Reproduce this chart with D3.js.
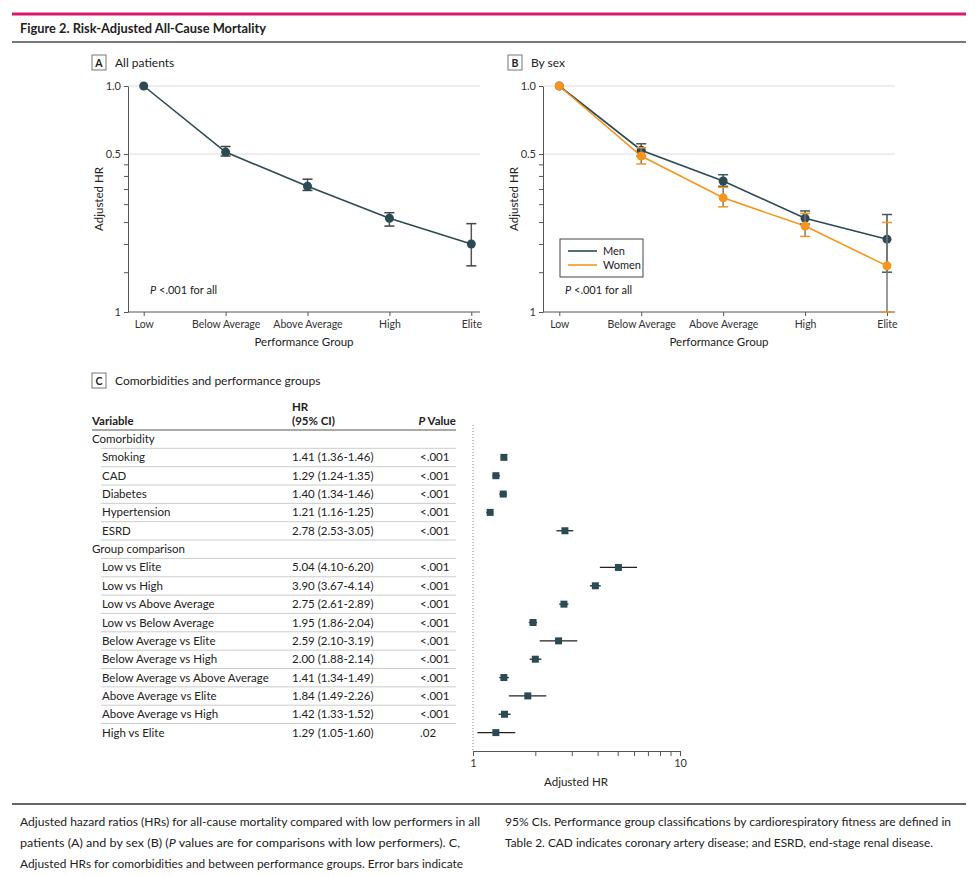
<!DOCTYPE html>
<html>
<head>
<meta charset="utf-8">
<style>
  body { margin: 0; background: #fff; }
  svg { display: block; font-family: "Lato", "Noto Sans", sans-serif; }
  .tick text { font-family: "Lato", "Noto Sans", sans-serif; }
</style>
</head>
<body>
<div id="chart"></div>
<script src="https://cdn.jsdelivr.net/npm/d3@7"></script>
<script>
// ---- data ----
var groups = ["Low", "Below Average", "Above Average", "High", "Elite"];

// panel A: all patients
var allHR = [1.0, 0.51, 0.36, 0.26, 0.20];
var allLo = [null, 0.49, 0.345, 0.24, 0.16];
var allHi = [null, 0.54, 0.387, 0.275, 0.246];

// panel B: by sex
var menHR = [1.0, 0.52, 0.38, 0.26, 0.21];
var menLo = [null, 0.49, 0.36, 0.245, 0.15];
var menHi = [null, 0.555, 0.405, 0.28, 0.27];
var womenHR = [1.0, 0.49, 0.32, 0.24, 0.16];
var womenLo = [null, 0.452, 0.292, 0.216, 0.10];
var womenHi = [null, 0.533, 0.356, 0.273, 0.249];

var yTicks = [1.0, 0.5, 0.45, 0.4, 0.35, 0.3, 0.25, 0.2, 0.15, 0.1];
var yTickLabels = {"1": "1.0", "0.5": "0.5", "0.1": "1"};

// panel C: comorbidities and group comparisons
var comorbVars = ["Smoking", "CAD", "Diabetes", "Hypertension", "ESRD"];
var comorbHR = [1.41, 1.29, 1.40, 1.21, 2.78];
var comorbLo = [1.36, 1.24, 1.34, 1.16, 2.53];
var comorbHi = [1.46, 1.35, 1.46, 1.25, 3.05];
var comorbP = ["<.001", "<.001", "<.001", "<.001", "<.001"];

var compVars = ["Low vs Elite", "Low vs High", "Low vs Above Average", "Low vs Below Average",
  "Below Average vs Elite", "Below Average vs High", "Below Average vs Above Average",
  "Above Average vs Elite", "Above Average vs High", "High vs Elite"];
var compHR = [5.04, 3.90, 2.75, 1.95, 2.59, 2.00, 1.41, 1.84, 1.42, 1.29];
var compLo = [4.10, 3.67, 2.61, 1.86, 2.10, 1.88, 1.34, 1.49, 1.33, 1.05];
var compHi = [6.20, 4.14, 2.89, 2.04, 3.19, 2.14, 1.49, 2.26, 1.52, 1.60];
var compP = ["<.001", "<.001", "<.001", "<.001", "<.001", "<.001", "<.001", "<.001", "<.001", ".02"];

var forestTicks = [1, 2, 3, 4, 5, 6, 7, 8, 9, 10];

var captionLeft = [
  "Adjusted hazard ratios (HRs) for all-cause mortality compared with low performers in all",
  "patients (A) and by sex (B) (|P| values are for comparisons with low performers). C,",
  "Adjusted HRs for comorbidities and between performance groups. Error bars indicate"
];
var captionRight = [
  "95% CIs. Performance group classifications by cardiorespiratory fitness are defined in",
  "Table 2. CAD indicates coronary artery disease; and ESRD, end-stage renal disease."
];

var teal = "#2c4a53", orange = "#f7941d", axisCol = "#555", textCol = "#222";

var svg = d3.select("#chart").append("svg")
  .attr("width", 978).attr("height", 876);

// ---- header ----
svg.append("line").attr("x1", 12).attr("x2", 966).attr("y1", 14).attr("y2", 14)
  .attr("stroke", "#d81b6a").attr("stroke-width", 3);
svg.append("text").attr("x", 20).attr("y", 33)
  .attr("font-size", 13.5).attr("font-weight", 700).attr("fill", textCol)
  .attr("textLength", 246).attr("lengthAdjust", "spacingAndGlyphs")
  .text("Figure 2. Risk-Adjusted All-Cause Mortality");
svg.append("line").attr("x1", 12).attr("x2", 966).attr("y1", 42).attr("y2", 42)
  .attr("stroke", "#777").attr("stroke-width", 2);

function panelLabel(x, y, letter, title) {
  svg.append("rect").attr("x", x).attr("y", y).attr("width", 14).attr("height", 15)
    .attr("fill", "#fff").attr("stroke", "#777").attr("stroke-width", 1);
  svg.append("text").attr("x", x + 7).attr("y", y + 11.5).attr("text-anchor", "middle")
    .attr("font-size", 10.5).attr("font-weight", 700).attr("fill", textCol).text(letter);
  svg.append("text").attr("x", x + 23).attr("y", y + 12)
    .attr("font-size", 12).attr("fill", textCol).text(title);
}

// ---- line panels (A and B) ----
function linePanel(left, xFirst, xLast, right, series) {
  var top = 86, bottom = 312;
  var x = d3.scalePoint().domain(groups).range([xFirst, xLast]);
  var y = d3.scaleLog().domain([0.1, 1]).range([bottom, top]);
  var g = svg.append("g");

  // gridlines at labelled ticks
  g.selectAll(".grid").data([1.0, 0.5]).enter().append("line")
    .attr("x1", left).attr("x2", right)
    .attr("y1", d => y(d)).attr("y2", d => y(d))
    .attr("stroke", "#ddd").attr("stroke-width", 1);

  var ya = g.append("g").attr("transform", "translate(" + left + ",0)")
    .call(d3.axisLeft(y).tickValues(yTicks).tickSize(4).tickSizeOuter(0)
      .tickFormat(d => yTickLabels[String(d)] || ""));
  ya.select(".domain").attr("stroke", axisCol);
  ya.selectAll(".tick line").attr("stroke", axisCol);
  ya.selectAll(".tick text").attr("font-size", 11).attr("fill", "#333");

  var xa = g.append("g").attr("transform", "translate(0," + bottom + ")")
    .call(d3.axisBottom(x).tickSize(4).tickSizeOuter(0));
  xa.select(".domain").remove();
  xa.selectAll(".tick line").attr("stroke", axisCol);
  xa.selectAll(".tick text").attr("font-size", 10.5).attr("fill", "#333").attr("dy", "0.9em");
  g.append("line").attr("x1", left).attr("x2", right).attr("y1", bottom).attr("y2", bottom)
    .attr("stroke", axisCol);

  g.append("text").attr("transform", "translate(" + (left - 25) + "," + ((top + bottom) / 2) + ") rotate(-90)")
    .attr("text-anchor", "middle").attr("font-size", 11.5).attr("fill", textCol).text("Adjusted HR");
  g.append("text").attr("x", (left + right) / 2).attr("y", bottom + 34)
    .attr("text-anchor", "middle").attr("font-size", 11.5).attr("fill", textCol).text("Performance Group");

  var pt = g.append("text").attr("x", left + 22).attr("y", bottom - 18)
    .attr("font-size", 11).attr("fill", textCol);
  pt.append("tspan").attr("font-style", "italic").text("P");
  pt.append("tspan").text(" <.001 for all");

  var line = d3.line().x((d, i) => x(groups[i])).y(d => y(d));
  series.forEach(function (s) {
    g.append("path").datum(s.hr).attr("d", line)
      .attr("fill", "none").attr("stroke", s.color).attr("stroke-width", 1.6);
  });
  series.forEach(function (s) {
    var idx = d3.range(groups.length).filter(i => s.lo[i] != null);
    var eb = g.append("g");
    eb.selectAll(".stem").data(idx).enter().append("line")
      .attr("x1", i => x(groups[i])).attr("x2", i => x(groups[i]))
      .attr("y1", i => y(s.lo[i])).attr("y2", i => y(s.hi[i]))
      .attr("stroke", s.bar).attr("stroke-width", 1.5);
    ["lo", "hi"].forEach(function (k) {
      eb.selectAll(".cap" + k).data(idx).enter().append("line")
        .attr("x1", i => x(groups[i]) - 5).attr("x2", i => x(groups[i]) + 5)
        .attr("y1", i => y(s[k][i])).attr("y2", i => y(s[k][i]))
        .attr("stroke", s.cap).attr("stroke-width", 1.5);
    });
    g.selectAll(".dot").data(s.hr).enter().append("circle")
      .attr("cx", (d, i) => x(groups[i])).attr("cy", d => y(d)).attr("r", 4.5)
      .attr("fill", s.color);
  });
  return g;
}

panelLabel(92, 55, "A", "All patients");
linePanel(128, 143.7, 471.3, 480, [
  {hr: allHR, lo: allLo, hi: allHi, color: teal, bar: "#555", cap: "#444"}
]);

panelLabel(508, 55, "B", "By sex");
var gB = linePanel(543, 559.3, 887, 895, [
  {hr: menHR, lo: menLo, hi: menHi, color: teal, bar: "#4a4f52", cap: "#3f5a62"},
  {hr: womenHR, lo: womenLo, hi: womenHi, color: orange, bar: "#777", cap: orange}
]);
// legend
var lg = gB.append("g");
lg.append("rect").attr("x", 560).attr("y", 239).attr("width", 83).attr("height", 38)
  .attr("fill", "#fff").attr("stroke", "#444").attr("stroke-width", 1);
[["Men", teal], ["Women", orange]].forEach(function (d, i) {
  lg.append("line").attr("x1", 568).attr("x2", 597).attr("y1", 251 + i * 14).attr("y2", 251 + i * 14)
    .attr("stroke", d[1]).attr("stroke-width", 1.6);
  lg.append("text").attr("x", 603).attr("y", 255 + i * 14).attr("font-size", 11)
    .attr("fill", textCol).text(d[0]);
});

// ---- panel C: table + forest plot ----
panelLabel(92, 373, "C", "Comorbidities and performance groups");

var rows = [{label: "Comorbidity", head: true}];
comorbVars.forEach((v, i) => rows.push({label: v, hr: comorbHR[i], lo: comorbLo[i], hi: comorbHi[i], p: comorbP[i]}));
rows.push({label: "Group comparison", head: true});
compVars.forEach((v, i) => rows.push({label: v, hr: compHR[i], lo: compLo[i], hi: compHi[i], p: compP[i]}));

var rowY = d3.scaleLinear().domain([0, rows.length - 1]).range([439, 732.6]);
var fmt = d3.format(".2f");
var tbl = svg.append("g").attr("font-size", 11.5).attr("fill", textCol);

tbl.append("text").attr("x", 292).attr("y", 411).attr("font-weight", 700).text("HR");
tbl.append("text").attr("x", 292).attr("y", 425).attr("font-weight", 700).text("(95% CI)");
tbl.append("text").attr("x", 92).attr("y", 425).attr("font-weight", 700).text("Variable");
var pv = tbl.append("text").attr("x", 456).attr("y", 425).attr("text-anchor", "end").attr("font-weight", 700);
pv.append("tspan").attr("font-style", "italic").text("P");
pv.append("tspan").text(" Value");
tbl.append("line").attr("x1", 92).attr("x2", 456).attr("y1", 430).attr("y2", 430)
  .attr("stroke", "#555").attr("stroke-width", 1.2);

rows.forEach(function (r, i) {
  var yy = rowY(i);
  tbl.append("text").attr("x", r.head ? 92 : 102).attr("y", yy + 4).text(r.label);
  if (!r.head) {
    tbl.append("text").attr("x", 292).attr("y", yy + 4)
      .text(fmt(r.hr) + " (" + fmt(r.lo) + "-" + fmt(r.hi) + ")");
    tbl.append("text").attr("x", 420).attr("y", yy + 4).text(r.p);
  }
  if (i < rows.length - 1) {
    tbl.append("line").attr("x1", 101).attr("x2", 456).attr("y1", yy + 9.3).attr("y2", yy + 9.3)
      .attr("stroke", "#ccc").attr("stroke-width", 1);
  }
});

var fx = d3.scaleLog().domain([1, 10]).range([473, 680]);
var fg = svg.append("g");
fg.append("line").attr("x1", fx(1)).attr("x2", fx(1)).attr("y1", 425).attr("y2", 751)
  .attr("stroke", "#888").attr("stroke-dasharray", "1,2");
var fa = fg.append("g").attr("transform", "translate(0,751)")
  .call(d3.axisBottom(fx).tickValues(forestTicks).tickSize(5).tickSizeOuter(0)
    .tickFormat(d => (d === 1 || d === 10) ? String(d) : ""));
fa.select(".domain").attr("stroke", axisCol);
fa.selectAll(".tick line").attr("stroke", axisCol);
fa.selectAll(".tick text").attr("font-size", 11).attr("fill", "#333");
fg.append("text").attr("x", 576).attr("y", 786).attr("text-anchor", "middle")
  .attr("font-size", 11.5).attr("fill", textCol).text("Adjusted HR");

var pts = rows.map((r, i) => Object.assign({i: i}, r)).filter(r => !r.head);
fg.selectAll(".ci").data(pts).enter().append("line")
  .attr("x1", d => fx(d.lo)).attr("x2", d => fx(d.hi))
  .attr("y1", d => rowY(d.i)).attr("y2", d => rowY(d.i))
  .attr("stroke", "#222").attr("stroke-width", 1.3);
fg.selectAll(".sq").data(pts).enter().append("rect")
  .attr("x", d => fx(d.hr) - 3.5).attr("y", d => rowY(d.i) - 3.5)
  .attr("width", 7).attr("height", 7).attr("fill", teal);

// ---- caption ----
svg.append("line").attr("x1", 12).attr("x2", 966).attr("y1", 804).attr("y2", 804)
  .attr("stroke", "#333").attr("stroke-width", 1.5);
function captionLines(x, lines, widths) {
  lines.forEach(function (l, i) {
    var t = svg.append("text").attr("x", x).attr("y", 826 + i * 21)
      .attr("font-size", 12).attr("fill", textCol);
    if (widths[i]) t.attr("textLength", widths[i]).attr("lengthAdjust", "spacingAndGlyphs");
    l.split("|").forEach(function (part, k) {
      t.append("tspan").attr("font-style", k % 2 ? "italic" : null).text(part);
    });
  });
}
captionLines(20, captionLeft, [460, 440, 443]);
captionLines(505, captionRight, [446, 428]);
</script>
</body>
</html>
